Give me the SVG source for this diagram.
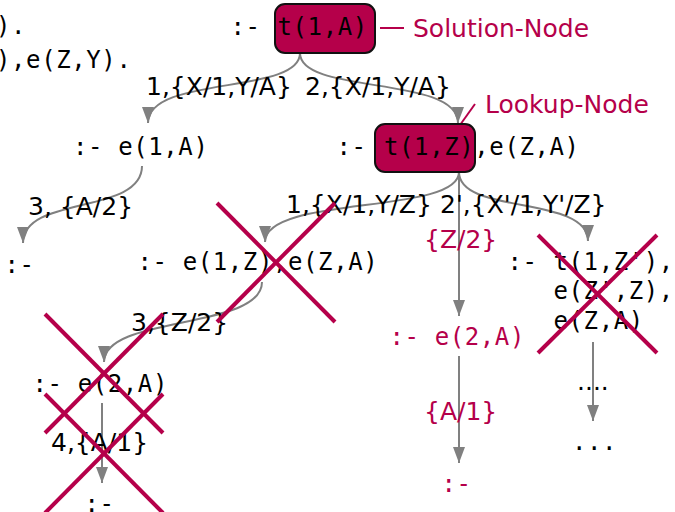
<svg xmlns="http://www.w3.org/2000/svg" width="675" height="512" viewBox="0 0 675 512">
<style>
.m{font-family:"DejaVu Sans Mono",monospace;font-size:24px;letter-spacing:0.6px;fill:#000}
.mc{fill:#b5004a}
.l{font-family:"DejaVu Sans",sans-serif;font-size:25px;fill:#000}
.lc{font-family:"DejaVu Sans",sans-serif;font-size:25px;fill:#b5004a}
.box{fill:#b5004a;stroke:#111;stroke-width:2}
.e{fill:none;stroke:#808080;stroke-width:2}
.x{stroke:#b5004a;stroke-width:4;fill:none}
.c{stroke:#b5004a;stroke-width:2;fill:none}
</style>
<defs>
<marker id="ah" viewBox="0 0 16 12" refX="16" refY="6" markerWidth="16" markerHeight="12" markerUnits="userSpaceOnUse" orient="auto">
<path d="M0,0 L16,6 L0,12 z" fill="#808080"/>
</marker>
</defs>
<g id="program">
<text class="m" x="-4" y="34">).</text>
<text class="m" x="-4" y="68">),e(Z,Y).</text>
</g>
<g id="connectors">
<path class="e" d="M300,53 C300,95 148,75 148,123" marker-end="url(#ah)"/>
<path class="e" d="M300,53 C300,95 458,75 458,123" marker-end="url(#ah)"/>
<path class="e" d="M142,166 C142,215 23,195 23,243" marker-end="url(#ah)"/>
<path class="e" d="M459,172 C459,215 265,195 265,242" marker-end="url(#ah)"/>
<path class="e" d="M459,172 C459,215 588,195 588,241" marker-end="url(#ah)"/>
<path class="e" d="M459,172 L459,316" marker-end="url(#ah)"/>
<path class="e" d="M262,282 C262,330 104,315 104,362" marker-end="url(#ah)"/>
<path class="e" d="M102,403 L102,483" marker-end="url(#ah)"/>
<path class="e" d="M459,356 L459,463" marker-end="url(#ah)"/>
<path class="e" d="M593,342 L593,421" marker-end="url(#ah)"/>
<text class="l" x="146" y="95">1,{X/1,Y/A}</text>
<text class="l" x="305" y="95">2,{X/1,Y/A}</text>
<text class="l" x="28" y="215">3, {A/2}</text>
<text class="l" x="286" y="213">1,{X/1,Y/Z}</text>
<text class="l" x="440" y="213">2',{X'/1,Y'/Z}</text>
<text class="lc" x="424" y="248">{Z/2}</text>
<text class="l" x="131" y="331">3,{Z/2}</text>
<text class="lc" x="424" y="420">{A/1}</text>
<text class="l" x="51" y="451">4,{A/1}</text>
<text class="l" x="577" y="390">....</text>
</g>
<g id="n-root">
<rect class="box" x="275" y="4" width="100" height="49" rx="10"/>
<text class="m" x="230.5" y="35">:-</text>
<text class="m" x="277.5" y="35">t(1,A)</text>
</g>
<g id="solution-note">
<line class="c" x1="380" y1="28" x2="404" y2="28"/>
<text class="lc" x="413" y="37">Solution-Node</text>
</g>
<g id="lookup-note">
<line class="c" x1="475" y1="104" x2="460" y2="125"/>
<text class="lc" x="485" y="113">Lookup-Node</text>
</g>
<g id="n-e1a">
<text class="m" x="73" y="155">:- e(1,A)</text>
</g>
<g id="n-lookup">
<rect class="box" x="375" y="124" width="100" height="48" rx="10"/>
<text class="m" x="336.5" y="155">:-</text>
<text class="m" x="384" y="155">t(1,Z),e(Z,A)</text>
</g>
<g id="n-empty1">
<text class="m" x="4.5" y="273">:-</text>
</g>
<g id="n-e1z">
<text class="m" x="137.5" y="270">:- e(1,Z),e(Z,A)</text>
<line class="x" x1="217" y1="203" x2="335" y2="322"/>
<line class="x" x1="335" y1="203" x2="217" y2="322"/>
</g>
<g id="n-right">
<text class="m" x="507.5" y="270">:-</text>
<text class="m" x="553.5" y="270">t(1,Z'),</text>
<text class="m" x="553.5" y="299">e(Z',Z),</text>
<text class="m" x="553.5" y="329">e(Z,A)</text>
<line class="x" x1="538" y1="235" x2="657" y2="353"/>
<line class="x" x1="657" y1="235" x2="538" y2="353"/>
</g>
<g id="n-e2a-red">
<text class="m mc" x="389.5" y="345">:- e(2,A)</text>
</g>
<g id="n-e2a">
<text class="m" x="32.5" y="392">:- e(2,A)</text>
<line class="x" x1="45" y1="314" x2="163" y2="433"/>
<line class="x" x1="163" y1="314" x2="45" y2="433"/>
</g>
<g id="n-empty-red">
<text class="m mc" x="441.5" y="492">:-</text>
</g>
<g id="n-dots">
<text class="m" x="572" y="450">...</text>
</g>
<g id="n-empty2">
<text class="m" x="84.5" y="512">:-</text>
<line class="x" x1="45" y1="394" x2="163" y2="513"/>
<line class="x" x1="163" y1="394" x2="45" y2="513"/>
</g>
</svg>
